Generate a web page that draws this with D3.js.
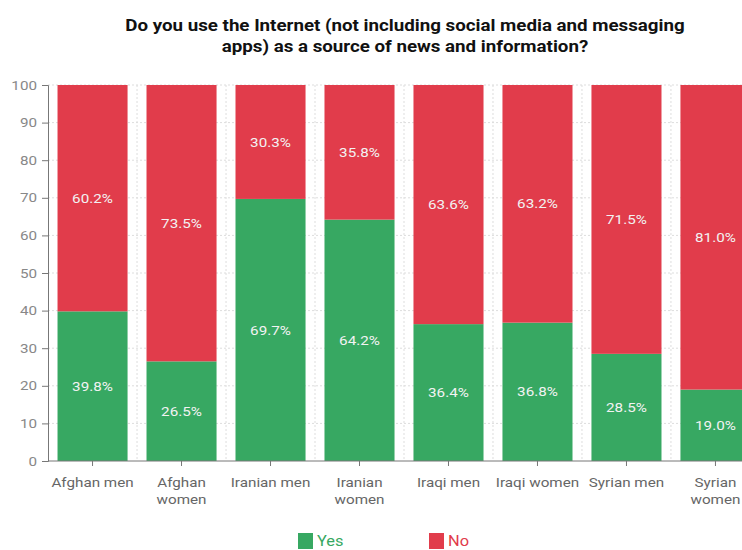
<!DOCTYPE html>
<html><head><meta charset="utf-8">
<script src="https://cdn.jsdelivr.net/npm/d3@7"></script>
<style>body{margin:0;background:#fff;} text{font-family:Roboto,"Noto Sans",sans-serif;}</style>
</head><body><svg id="c" width="742" height="550"></svg>
<script>
const categories = ["Afghan men","Afghan women","Iranian men","Iranian women","Iraqi men","Iraqi women","Syrian men","Syrian women"];
const categoryLines = [["Afghan men"],["Afghan","women"],["Iranian men"],["Iranian","women"],["Iraqi men"],["Iraqi women"],["Syrian men"],["Syrian","women"]];
const yesValues = [39.8,26.5,69.7,64.2,36.4,36.8,28.5,19.0];
const noValues = [60.2,73.5,30.3,35.8,63.6,63.2,71.5,81.0];
const yTicks = [0,10,20,30,40,50,60,70,80,90,100];
const seriesNames = ["Yes","No"];
const titleLines = ["Do you use the Internet (not including social media and messaging","apps) as a source of news and information?"];

const green = "#37a862", red = "#e13c4b";
const STRETCH = 1.17;
function stretch(sel){
  sel.each(function(){
    const w = this.getComputedTextLength();
    if (w > 0) d3.select(this).attr("textLength", w*STRETCH).attr("lengthAdjust","spacingAndGlyphs");
  });
}
const svg = d3.select("#c");
const x = d3.scaleBand().domain(categories).range([48,760]).paddingInner(0.213).paddingOuter(0.107);
const y = d3.scaleLinear().domain([0,100]).range([461,85]);

const title = svg.append("g").selectAll("text").data(titleLines).join("text")
  .attr("x",405).attr("y",(d,i)=>31+i*21).attr("text-anchor","middle")
  .attr("font-size",16).attr("font-weight",700).attr("fill","#111").text(d=>d);
stretch(title);

// grid
const step = x.step();
svg.append("g").selectAll("line").data(yTicks.filter(t=>t>0)).join("line")
  .attr("x1",48).attr("x2",742).attr("y1",d=>y(d)).attr("y2",d=>y(d))
  .attr("stroke","#ddd").attr("stroke-dasharray","2,2");
svg.append("g").selectAll("line").data(categories).join("line")
  .attr("x1",d=>x(d)+x.bandwidth()+(step-x.bandwidth())/2).attr("x2",d=>x(d)+x.bandwidth()+(step-x.bandwidth())/2)
  .attr("y1",y(100)).attr("y2",y(0)).attr("stroke","#ddd").attr("stroke-dasharray","2,2");

const data = categories.map((c,i)=>({c,yes:yesValues[i],no:noValues[i]}));
const g = svg.append("g");
g.selectAll("rect.yes").data(data).join("rect").attr("class","yes")
  .attr("x",d=>x(d.c)).attr("width",x.bandwidth()).attr("y",d=>y(d.yes)).attr("height",d=>y(0)-y(d.yes)).attr("fill",green);
g.selectAll("rect.no").data(data).join("rect").attr("class","no")
  .attr("x",d=>x(d.c)).attr("width",x.bandwidth()).attr("y",d=>y(d.yes+d.no)).attr("height",d=>y(d.yes)-y(d.yes+d.no)).attr("fill",red);
const yl = g.selectAll("text.yl").data(data).join("text").attr("class","yl")
  .attr("x",d=>x(d.c)+x.bandwidth()/2).attr("y",d=>y(d.yes/2)).attr("dy","0.35em")
  .attr("text-anchor","middle").attr("font-size",13).attr("fill","#f2f2f2").text(d=>d.yes.toFixed(1)+"%");
const nl = g.selectAll("text.nl").data(data).join("text").attr("class","nl")
  .attr("x",d=>x(d.c)+x.bandwidth()/2).attr("y",d=>y(d.yes+d.no/2)).attr("dy","0.35em")
  .attr("text-anchor","middle").attr("font-size",13).attr("fill","#f2f2f2").text(d=>d.no.toFixed(1)+"%");
stretch(yl); stretch(nl);

// y axis
const ya = svg.append("g").attr("transform","translate(48,0)").call(d3.axisLeft(y).tickValues(yTicks).tickSize(6).tickPadding(5));
ya.select(".domain").attr("stroke","#777");
ya.selectAll(".tick line").attr("stroke","#777");
ya.selectAll(".tick text").attr("font-size",13).attr("fill","#888").attr("font-family","Roboto,sans-serif");
stretch(ya.selectAll(".tick text"));

// x axis
const xa = svg.append("g").attr("transform","translate(0,461)").call(d3.axisBottom(x).tickSize(5).tickSizeOuter(0));
xa.select(".domain").attr("stroke","#777").attr("d","M48,0H742");
xa.selectAll(".tick line").attr("stroke","#777");
xa.selectAll(".tick text").remove();
xa.selectAll(".tick").each(function(d,i){
  const t = d3.select(this).append("text").attr("text-anchor","middle").attr("font-size",13).attr("fill","#666").attr("font-family","Roboto,sans-serif");
  categoryLines[i].forEach((l,j)=>t.append("tspan").attr("x",0).attr("y",26+j*17).text(l));
});
stretch(xa.selectAll(".tick tspan"));

// legend
const legendX = [298,429];
const lg = svg.append("g");
seriesNames.forEach((s,i)=>{
  lg.append("rect").attr("x",legendX[i]).attr("y",533).attr("width",15).attr("height",16).attr("fill",i?red:green);
  const t = lg.append("text").attr("x",legendX[i]+19).attr("y",546).attr("font-size",14).attr("fill",i?red:green).text(s);
  stretch(t);
});
</script></body></html>
